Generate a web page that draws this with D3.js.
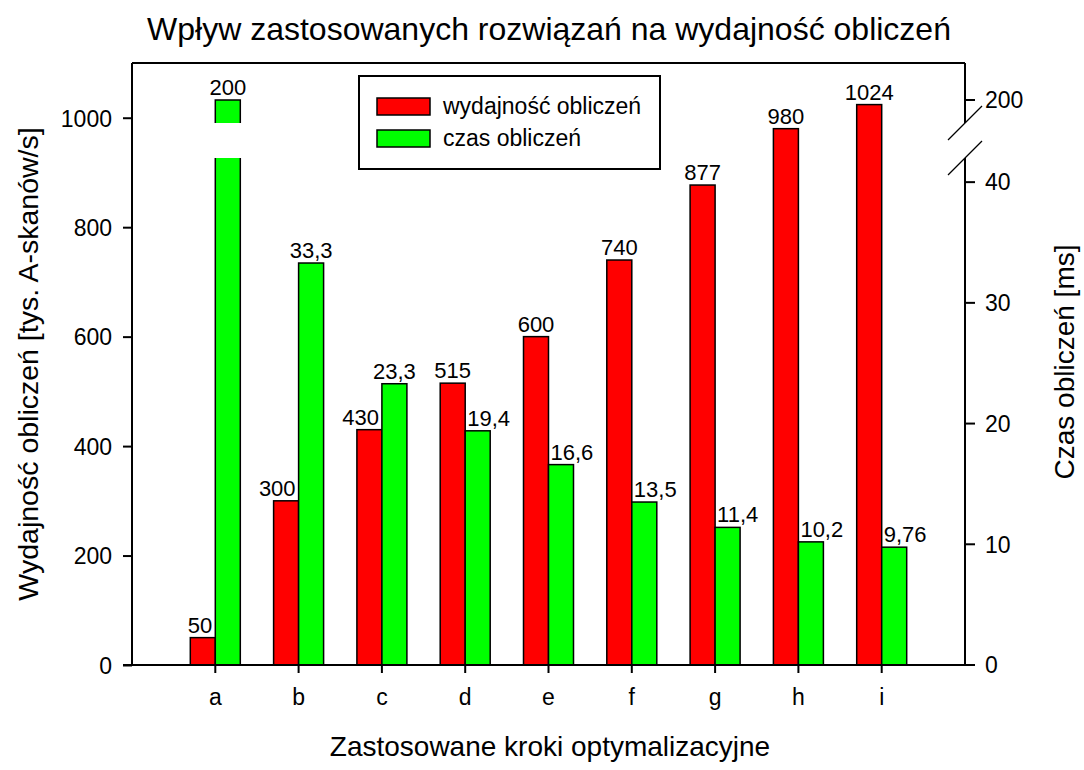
<!DOCTYPE html>
<html>
<head>
<meta charset="utf-8">
<script src="https://cdn.jsdelivr.net/npm/d3@7"></script>
<style>
  html, body { margin: 0; padding: 0; background: #fff; }
  svg text { font-family: "Liberation Sans", Arial, sans-serif; fill: #000; }
</style>
</head>
<body>
<svg id="chart" width="1084" height="770"></svg>
<script>
// ---- data ----
const categories = ["a", "b", "c", "d", "e", "f", "g", "h", "i"];
const performance = [50, 300, 430, 515, 600, 740, 877, 980, 1024];          // tys. A-skanów/s
const compTime = [200, 33.3, 23.3, 19.4, 16.6, 13.5, 11.4, 10.2, 9.76];     // ms
const perfLabels = ["50", "300", "430", "515", "600", "740", "877", "980", "1024"];
const timeLabels = ["200", "33,3", "23,3", "19,4", "16,6", "13,5", "11,4", "10,2", "9,76"];
const leftTicks = [0, 200, 400, 600, 800, 1000];
const rightTicks = [0, 10, 20, 30, 40, 200];
const seriesNames = ["wydajność obliczeń", "czas obliczeń"];

// ---- layout ----
const svg = d3.select("#chart");
const L = 132, R = 965, T = 63, B = 665;
const breakTop = 123, breakBot = 158;
const lowMax = 42;
const colors = ["#ff0000", "#00ff00"];
const tickFont = 23, lblSize = 22;

const x = d3.scaleBand().domain(categories).range([L, R]).paddingInner(0).paddingOuter(0.5);
const barW = 25;
const yL = d3.scaleLinear().domain([0, 1100]).range([B, T]);
const yRlow = d3.scaleLinear().domain([0, lowMax]).range([B, breakBot]);
const pxPerUnit = (B - breakBot) / lowMax;
// upper segment of the broken right axis, same px/unit, 200 placed at y=100
const yRhigh = d3.scaleLinear()
  .domain([200 - (breakTop - 100) / pxPerUnit, 200 + (100 - T) / pxPerUnit])
  .range([breakTop, T]);
function yR(v) { return v <= lowMax ? yRlow(v) : yRhigh(v); }

// ---- bars ----
const g = svg.append("g");
const data = categories.map((c, i) => ({ c, p: performance[i], t: compTime[i], pl: perfLabels[i], tl: timeLabels[i] }));

g.selectAll("rect.perf").data(data).join("rect")
  .attr("class", "perf")
  .attr("x", d => x(d.c) + x.bandwidth() / 2 - barW)
  .attr("y", d => yL(d.p))
  .attr("width", barW)
  .attr("height", d => B - yL(d.p))
  .attr("fill", colors[0]).attr("stroke", "#000").attr("stroke-width", 1.5);

data.forEach(d => {
  const bx = x(d.c) + x.bandwidth() / 2;
  if (d.t > lowMax) {
    g.append("rect").attr("x", bx).attr("y", breakBot).attr("width", barW).attr("height", B - breakBot)
      .attr("fill", colors[1]);
    g.append("path").attr("d", `M${bx},${B}V${breakBot}M${bx + barW},${breakBot}V${B}`)
      .attr("stroke", "#000").attr("stroke-width", 1.5).attr("fill", "none");
    const yt = yRhigh(d.t);
    g.append("rect").attr("x", bx).attr("y", yt).attr("width", barW).attr("height", breakTop - yt)
      .attr("fill", colors[1]);
    g.append("path").attr("d", `M${bx},${breakTop}V${yt}H${bx + barW}V${breakTop}`)
      .attr("stroke", "#000").attr("stroke-width", 1.5).attr("fill", "none");
  } else {
    g.append("rect").attr("x", bx).attr("y", yR(d.t)).attr("width", barW).attr("height", B - yR(d.t))
      .attr("fill", colors[1]).attr("stroke", "#000").attr("stroke-width", 1.5);
  }
});

// ---- value labels ----
data.forEach(d => {
  const cx = x(d.c) + x.bandwidth() / 2;
  const yp = yL(d.p), yt = yR(d.t);
  const redTaller = yp < yt;
  g.append("text")
    .attr("x", redTaller ? cx - barW / 2 : cx - 3)
    .attr("y", yp - 5)
    .attr("text-anchor", redTaller ? "middle" : "end")
    .attr("font-size", lblSize).text(d.pl);
  g.append("text")
    .attr("x", redTaller ? cx + 2 : cx + barW / 2)
    .attr("y", yt - 5)
    .attr("text-anchor", redTaller ? "start" : "middle")
    .attr("font-size", lblSize).text(d.tl);
});

// ---- frame / axes ----
const axW = 2;
svg.append("line").attr("x1", L).attr("x2", R).attr("y1", T).attr("y2", T).attr("stroke", "#000").attr("stroke-width", axW);

const leftAxis = d3.axisLeft(yL).tickValues(leftTicks).tickFormat(d3.format("d")).tickSize(9).tickPadding(11).tickSizeOuter(0);
const gl = svg.append("g").attr("transform", `translate(${L},0)`).call(leftAxis);
gl.select(".domain").attr("d", `M0,${B}V${T}`).attr("stroke-width", axW);
gl.selectAll(".tick line").attr("stroke-width", axW);
gl.selectAll(".tick text").attr("font-size", tickFont).attr("dy", "0.36em");

const bottomAxis = d3.axisBottom(x).tickSize(8).tickPadding(16).tickSizeOuter(0);
const gb = svg.append("g").attr("transform", `translate(0,${B})`).call(bottomAxis);
gb.select(".domain").attr("d", `M${L - 9},0H${R + 9}`).attr("stroke-width", axW);
gb.selectAll(".tick line").attr("stroke-width", axW);
gb.selectAll(".tick text").attr("font-size", tickFont);

const gr = svg.append("g");
gr.append("path").attr("d", `M${R},${B}V${breakBot}M${R},${breakTop}V${T}`)
  .attr("stroke", "#000").attr("stroke-width", axW).attr("fill", "none");
rightTicks.forEach(v => {
  const yy = yR(v);
  gr.append("line").attr("x1", R).attr("x2", R + 10).attr("y1", yy).attr("y2", yy).attr("stroke", "#000").attr("stroke-width", axW);
  gr.append("text").attr("x", R + 20).attr("y", yy).attr("dy", "0.36em").attr("font-size", tickFont).text(v);
});
[breakTop, breakBot].forEach(yy => {
  gr.append("line").attr("x1", R - 17).attr("y1", yy + 17).attr("x2", R + 17).attr("y2", yy - 17)
    .attr("stroke", "#000").attr("stroke-width", 1.2);
});

// ---- titles ----
svg.append("text").attr("x", 549).attr("y", 40).attr("text-anchor", "middle").attr("font-size", 32)
  .text("Wpływ zastosowanych rozwiązań na wydajność obliczeń");
svg.append("text").attr("x", 550).attr("y", 756).attr("text-anchor", "middle").attr("font-size", 28)
  .text("Zastosowane kroki optymalizacyjne");
svg.append("text").attr("transform", "translate(38,364) rotate(-90)").attr("text-anchor", "middle").attr("font-size", 28.5)
  .text("Wydajność obliczeń [tys. A-skanów/s]");
svg.append("text").attr("transform", "translate(1074,362) rotate(-90)").attr("text-anchor", "middle").attr("font-size", 28)
  .text("Czas obliczeń [ms]");

// ---- legend ----
const lg = svg.append("g");
lg.append("rect").attr("x", 359).attr("y", 76).attr("width", 301).attr("height", 93)
  .attr("fill", "#fff").attr("stroke", "#000").attr("stroke-width", 2);
seriesNames.forEach((n, i) => {
  const yy = 98 + i * 32;
  lg.append("rect").attr("x", 377).attr("y", yy).attr("width", 53).attr("height", 17)
    .attr("fill", colors[i]).attr("stroke", "#000").attr("stroke-width", 1.5);
  lg.append("text").attr("x", 443).attr("y", yy + 16).attr("font-size", 23).text(n);
});
</script>
</body>
</html>
